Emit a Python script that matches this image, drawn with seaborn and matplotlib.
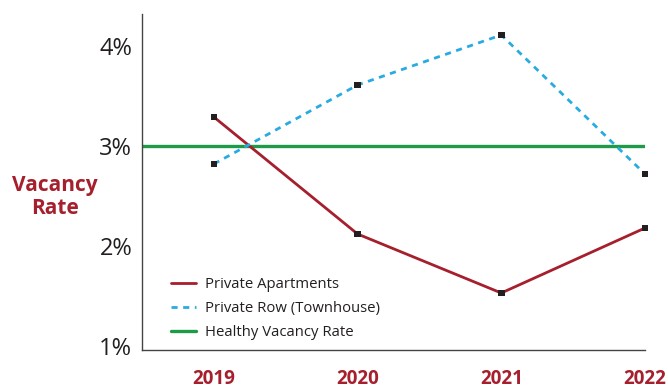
import matplotlib
matplotlib.use("Agg")
import matplotlib.pyplot as plt
import seaborn as sns
import pandas as pd

years = ["2019", "2020", "2021", "2022"]
apartments = [3.29, 2.12, 1.53, 2.18]
row_townhouse = [2.82, 3.61, 4.11, 2.72]
healthy_rate = 3.0
y_ticks = [1, 2, 3, 4]
y_tick_labels = ["1%", "2%", "3%", "4%"]

sns.set_theme(style="white")
plt.rcParams["font.family"] = ["Open Sans", "DejaVu Sans"]

RED = "#a51f2d"
BLUE = "#29abe2"
GREEN = "#1f9a48"
TXT = "#231f20"

xpos = list(range(len(years)))
df = pd.DataFrame({
    "x": xpos * 2,
    "value": apartments + row_townhouse,
    "series": ["Private Apartments"] * 4 + ["Private Row (Townhouse)"] * 4,
})

fig = plt.figure(figsize=(6.68, 3.88), dpi=100)
ax = fig.add_axes([142 / 668, 1 - 350 / 388, (645 - 142) / 668, (350 - 14) / 388])

sns.lineplot(data=df[df.series == "Private Apartments"], x="x", y="value",
             color=RED, lw=2.0, ax=ax, label="Private Apartments", zorder=3)
sns.lineplot(data=df[df.series == "Private Row (Townhouse)"], x="x", y="value",
             color=BLUE, lw=2.0, ax=ax, label="Private Row (Townhouse)",
             dashes=False, zorder=3)
ax.lines[-1].set_dashes((2.2, 2.0))
ax.axhline(healthy_rate, color=GREEN, lw=2.4, label="Healthy Vacancy Rate", zorder=2)

sns.scatterplot(data=df, x="x", y="value", marker="s", color="#231f20",
                s=22, edgecolor="none", ax=ax, zorder=4, clip_on=False, legend=False)

ax.set_xlim(-0.5, 3.0)
ax.set_ylim(0.96, 4.32)
ax.set_xticks(xpos)
ax.set_xticklabels(years, fontsize=13.5, fontweight="bold", color=RED)
ax.set_yticks(y_ticks)
ax.set_yticklabels(y_tick_labels, fontsize=17, color=TXT)
ax.tick_params(axis="x", direction="in", length=5, width=1, color="#444444", pad=14)
ax.tick_params(axis="y", direction="in", length=5, width=1, color="#444444", pad=7)
ax.set_xlabel("")
ax.set_ylabel("")

for s in ["top", "right"]:
    ax.spines[s].set_visible(False)
for s in ["left", "bottom"]:
    ax.spines[s].set_color("#444444")
    ax.spines[s].set_linewidth(1.0)

fig.text(55 / 668, 1 - 197 / 388, "Vacancy\nRate", ha="center", va="center",
         fontsize=15, fontweight="bold", color=RED, linespacing=1.15)

leg = ax.legend(loc="upper left", bbox_to_anchor=(0.045, 0.235), frameon=False,
                fontsize=10.7, handlelength=1.7, handletextpad=0.6, labelspacing=0.6,
                borderaxespad=0)
for t in leg.get_texts():
    t.set_color(TXT)

fig.savefig("out.png", dpi=100)
